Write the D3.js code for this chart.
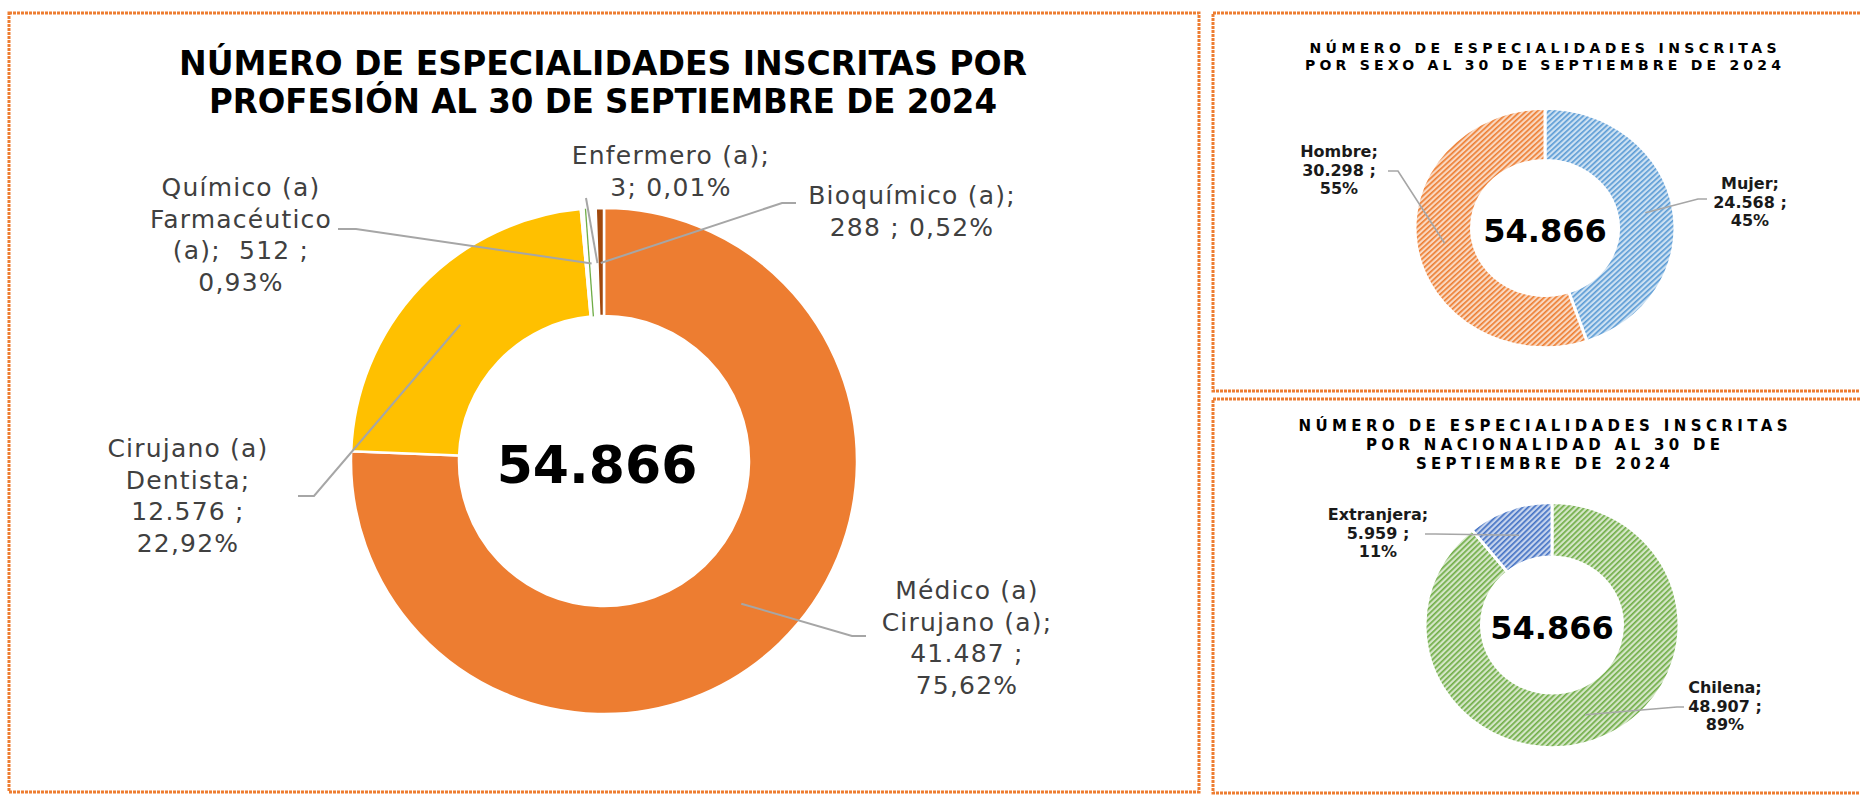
<!DOCTYPE html>
<html>
<head>
<meta charset="utf-8">
<script src="https://cdn.jsdelivr.net/npm/d3@7"></script>
<style>
  body { margin: 0; background: #fff; }
  svg { display: block; }
  text { font-family: "DejaVu Sans", Verdana, sans-serif; }
</style>
</head>
<body>
<svg id="chart" width="1860" height="796"></svg>
<script>
// ---- data ----
var total = 54866;

var profCategories = ["Médico (a) Cirujano (a)", "Cirujano (a) Dentista", "Químico (a) Farmacéutico (a)", "Enfermero (a)", "Bioquímico (a)"];
var profValues = [41487, 12576, 512, 3, 288];
var profColors = ["#ED7D31", "#FFC000", "#FFFFFF", "#70AD47", "#A0490E"];
var profLabels = [
  "Médico (a)\nCirujano (a);\n{v} ;\n{p}",
  "Cirujano (a)\nDentista;\n{v} ;\n{p}",
  "Químico (a)\nFarmacéutico\n(a);  {v} ;\n{p}",
  "Enfermero (a);\n{v}; {p}",
  "Bioquímico (a);\n{v} ; {p}"
];

var sexCategories = ["Mujer", "Hombre"];
var sexValues = [24568, 30298];
var sexColors = ["#5B9BD5", "#ED7D31"];

var natCategories = ["Chilena", "Extranjera"];
var natValues = [48907, 5959];
var natColors = ["#70AD47", "#4472C4"];

var mainTitle = ["NÚMERO DE ESPECIALIDADES INSCRITAS POR", "PROFESIÓN AL 30 DE SEPTIEMBRE DE 2024"];
var sexTitle = ["NÚMERO DE ESPECIALIDADES INSCRITAS", "POR SEXO AL 30 DE SEPTIEMBRE DE 2024"];
var natTitle = ["NÚMERO DE ESPECIALIDADES INSCRITAS", "POR NACIONALIDAD AL 30 DE", "SEPTIEMBRE DE 2024"];

// ---- helpers ----
var locale = d3.formatLocale({decimal: ",", thousands: ".", grouping: [3], currency: ["", ""]});
var fmtInt = locale.format(",d");
var fmtPct2 = locale.format(".2%");
var fmtPct0 = locale.format(".0%");

var svg = d3.select("#chart");
var defs = svg.append("defs");

function frame(x, y, w, h) {
  svg.append("rect")
      .attr("x", x).attr("y", y).attr("width", w).attr("height", h)
      .attr("fill", "none")
      .attr("stroke", "#ED7D31")
      .attr("stroke-width", 3)
      .attr("stroke-dasharray", "3 1");
}

function hatch(id, color) {
  var p = defs.append("pattern")
      .attr("id", id)
      .attr("patternUnits", "userSpaceOnUse")
      .attr("width", 4).attr("height", 4)
      .attr("patternTransform", "rotate(45)");
  p.append("rect").attr("width", 4).attr("height", 4).attr("fill", color).attr("opacity", 0.3);
  p.append("rect").attr("width", 1.7).attr("height", 4).attr("fill", color);
  return "url(#" + id + ")";
}

function title(lines, cx, y0, dy, size, widths, adjust, family) {
  lines.forEach(function(t, i) {
    svg.append("text")
        .attr("x", cx).attr("y", y0 + i * dy)
        .attr("text-anchor", "middle")
        .attr("font-weight", "bold")
        .attr("font-size", size + "px")
        .attr("textLength", widths[i])
        .attr("lengthAdjust", adjust)
        .style("font-family", family)
        .attr("fill", "#000")
        .text(t);
  });
}

function label(lines, cx, y0, dy, size, weight, color, spacing) {
  var t = svg.append("text")
      .attr("text-anchor", "middle")
      .attr("font-size", size + "px")
      .attr("font-weight", weight)
      .attr("fill", color)
      .style("letter-spacing", spacing + "px")
      .style("white-space", "pre");
  lines.forEach(function(s, i) {
    t.append("tspan").attr("x", cx).attr("y", y0 + i * dy).text(s);
  });
}

function leader(pts, width) {
  svg.append("path")
      .attr("d", d3.line()(pts))
      .attr("fill", "none")
      .attr("stroke", "#A6A6A6")
      .attr("stroke-width", width);
}

// ---- frames ----
frame(9, 13, 1190, 779);
frame(1213, 13, 660, 378);
frame(1213, 399, 660, 394);

// ---- main donut ----
title(mainTitle, 603, 75, 38, 34, [848, 788], "spacingAndGlyphs", "'DejaVu Sans Condensed', 'DejaVu Sans', sans-serif");

var mc = [604, 461], mR = 253, mr = 145;
var pie = d3.pie().sort(null).value(function(d) { return d; });
var mArcs = pie(profValues);
var mArc = d3.arc().innerRadius(mr).outerRadius(mR);
var mMid = d3.arc().innerRadius((mR + mr) / 2 - 1).outerRadius((mR + mr) / 2 - 1);

var gMain = svg.append("g").attr("transform", "translate(" + mc[0] + "," + mc[1] + ")");
gMain.selectAll(".slice").data(mArcs).enter()
  .append("path")
    .attr("class", "slice")
    .attr("d", mArc)
    .attr("fill", function(d, i) { return profColors[i]; })
    .attr("stroke", "#fff")
    .attr("stroke-width", 2.5);

// hairline for slices too thin to show a fill
gMain.selectAll(".hair").data(mArcs.filter(function(d) { return d.endAngle - d.startAngle < 0.005; })).enter()
  .append("line")
    .attr("class", "hair")
    .attr("x1", function(d) { return mr * Math.sin(d.startAngle - 0.04); })
    .attr("y1", function(d) { return -mr * Math.cos(d.startAngle - 0.04); })
    .attr("x2", function(d) { return mR * Math.sin(d.startAngle - 0.04); })
    .attr("y2", function(d) { return -mR * Math.cos(d.startAngle - 0.04); })
    .attr("stroke", function(d) { return profColors[d.index]; })
    .attr("stroke-width", 1.3);

svg.append("text")
    .attr("x", 597).attr("y", 483)
    .attr("text-anchor", "middle")
    .attr("font-size", "52px")
    .attr("font-weight", "bold")
    .attr("fill", "#000")
    .text(fmtInt(total));

// label anchors: [centre x, first baseline], leader [start x, start y, elbow x]
var profLabelPos = [[967, 599], [188, 457], [241, 196], [671, 164], [912, 204]];
var profLeader = [[866, 636, 852], [298, 496, 314], [338, 229, 356], [586, 198, null], [796, 203, 782]];

mArcs.forEach(function(d, i) {
  var txt = profLabels[i].replace("{v}", fmtInt(profValues[i])).replace("{p}", fmtPct2(profValues[i] / total));
  label(txt.split("\n"), profLabelPos[i][0], profLabelPos[i][1], 31.5, 25, "normal", "#404040", 1.2);
  var c = mMid.centroid(d);
  var end = [mc[0] + c[0], mc[1] + c[1]];
  var L = profLeader[i];
  var pts = [[L[0], L[1]]];
  if (L[2] !== null) pts.push([L[2], L[1]]);
  pts.push(end);
  leader(pts, 2);
});

// ---- small donuts ----
function smallDonut(values, colors, cats, center, R, r, sy, prefix, labelPos, leaders) {
  var arcs = pie(values);
  var arc = d3.arc().innerRadius(r).outerRadius(R);
  var mid = d3.arc().innerRadius((R + r) / 2).outerRadius((R + r) / 2);
  var fills = colors.map(function(c, i) { return hatch(prefix + i, c); });
  var g = svg.append("g")
      .attr("transform", "translate(" + center[0] + "," + center[1] + ") scale(1," + sy + ")");
  g.selectAll(".slice").data(arcs).enter()
    .append("path")
      .attr("class", "slice")
      .attr("d", arc)
      .attr("fill", function(d, i) { return fills[i]; })
      .attr("stroke", "#fff")
      .attr("stroke-width", 3);

  svg.append("text")
      .attr("x", center[0]).attr("y", center[1] + 14)
      .attr("text-anchor", "middle")
      .attr("font-size", "32px")
      .attr("font-weight", "bold")
      .attr("fill", "#000")
      .text(fmtInt(d3.sum(values)));

  arcs.forEach(function(d, i) {
    var lines = [cats[i] + ";", fmtInt(values[i]) + " ;", fmtPct0(values[i] / d3.sum(values))];
    label(lines, labelPos[i][0], labelPos[i][1], 18.5, 16, "bold", "#1a1a1a", 0);
    var c = mid.centroid(d);
    var end = [center[0] + c[0], center[1] + c[1] * sy];
    var L = leaders[i];
    leader([[L[0], L[1]], [L[2], L[1]], end], 1.6);
  });
}

title(sexTitle, 1543, 53, 17, 14, [467, 476], "spacing", "'DejaVu Sans', sans-serif");
smallDonut(sexValues, sexColors, sexCategories, [1545, 228], 130, 73.5, 0.92, "hs",
  [[1750, 189], [1339, 157]],
  [[1707, 199, 1698], [1388, 171, 1398]]);

title(natTitle, 1543, 431, 19, 15, [489, 354, 254], "spacing", "'DejaVu Sans', sans-serif");
smallDonut(natValues, natColors, natCategories, [1552, 625], 127, 70.5, 0.965, "hn",
  [[1725, 693], [1378, 520]],
  [[1684, 707, 1677], [1425, 534, 1435]]);
</script>
</body>
</html>
